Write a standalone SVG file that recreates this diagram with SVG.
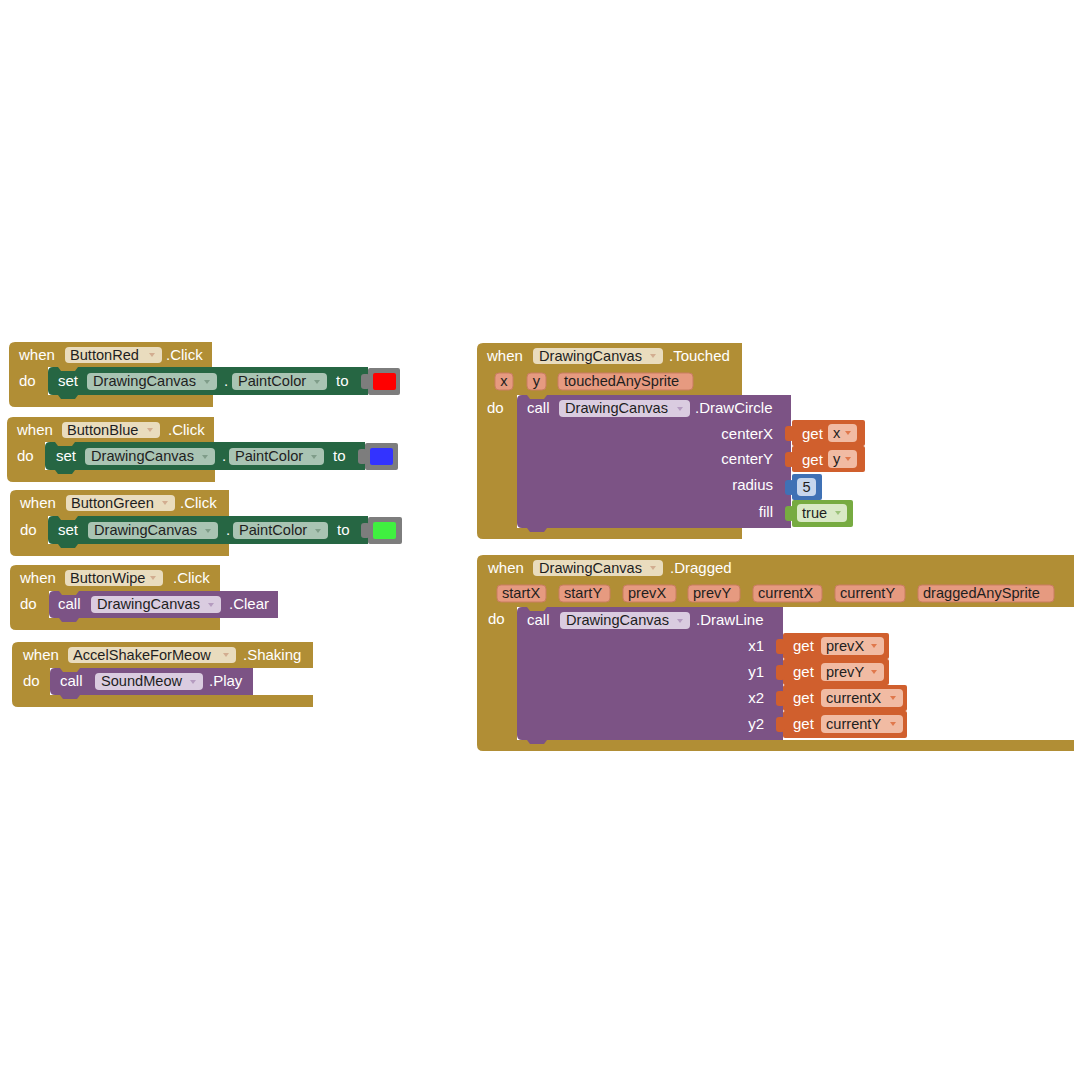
<svg xmlns="http://www.w3.org/2000/svg" width="1080" height="1080" viewBox="0 0 1080 1080">
<style>
.gold{fill:#b18e35}.set{fill:#266643}.call{fill:#7c5385}.get{fill:#d05f2d}.math{fill:#3f71b5}.logic{fill:#77ab41}.color{fill:#7d7d7d}
.t{font-family:"Liberation Sans",Arial,sans-serif;font-size:15px;fill:#fff}
.r{text-anchor:end}
.f{font-family:"Liberation Sans",Arial,sans-serif;font-size:14.6px;fill:#1e1e1e}
.c{text-anchor:middle}
.fg{fill:#e9dcbe}.fs{fill:#a9c4b3}.fc{fill:#dacce0}.fo{fill:#f1bba3}.fb{fill:#c6d6ed}.fl{fill:#d9e9c6}
.fp{fill:#e69a80;stroke:#c97c61;stroke-width:1}
.ag{fill:#d2ad90}.as{fill:#7f9d89}.ac{fill:#b59cc0}.ao{fill:#e0784c}.al{fill:#9cc27a}
</style>
<rect width="1080" height="1080" fill="#fff"/>

<g id="buttonred">
<path class="gold" d="M9,348 Q9,342 15,342 H212 V367 H48 V395 H213 V407 H15 Q9,407 9,401 Z"/>
<path class="set" d="M48,372 Q48,367 53,367 H368 V395 H53 Q48,395 48,390 Z"/>
<path class="gold" d="M58,367 L61,371 H75 L78,367 Z"/>
<path class="set" d="M58,395 L61,399 H75 L78,395 Z"/>
<rect class="color" x="368" y="368" width="32" height="27" rx="2"/>
<rect class="color" x="361" y="374" width="9" height="15" rx="3"/>
<rect x="373" y="373" width="23" height="17" rx="2" fill="#ff0000"/>
<text class="t" x="19" y="360">when</text>
<rect class="fg" x="65" y="347" width="97" height="16" rx="4"/>
<text class="f" x="70" y="360">ButtonRed</text>
<path class="ag" d="M149,353 H155 L152,357 Z"/>
<text class="t" x="166" y="360">.Click</text>
<text class="t" x="19" y="386">do</text>
<text class="t" x="58" y="386">set</text>
<rect class="fs" x="87" y="373" width="130" height="17" rx="4"/>
<text class="f" x="93" y="386">DrawingCanvas</text>
<path class="as" d="M204,380 H210 L207,384 Z"/>
<text class="t" x="224" y="386">.</text>
<rect class="fs" x="232" y="373" width="95" height="17" rx="4"/>
<text class="f" x="238" y="386">PaintColor</text>
<path class="as" d="M314,380 H320 L317,384 Z"/>
<text class="t" x="336" y="386">to</text>
</g>

<g id="buttonblue">
<path class="gold" d="M7,423 Q7,417 13,417 H214 V442 H45 V470 H215 V482 H13 Q7,482 7,476 Z"/>
<path class="set" d="M45,447 Q45,442 50,442 H365 V470 H50 Q45,470 45,465 Z"/>
<path class="gold" d="M55,442 L58,446 H72 L75,442 Z"/>
<path class="set" d="M55,470 L58,474 H72 L75,470 Z"/>
<rect class="color" x="365" y="443" width="33" height="27" rx="2"/>
<rect class="color" x="358" y="449" width="9" height="15" rx="3"/>
<rect x="370" y="448" width="23" height="17" rx="2" fill="#3333ff"/>
<text class="t" x="17" y="435">when</text>
<rect class="fg" x="62" y="422" width="98" height="16" rx="4"/>
<text class="f" x="67" y="435">ButtonBlue</text>
<path class="ag" d="M147,428 H153 L150,432 Z"/>
<text class="t" x="168" y="435">.Click</text>
<text class="t" x="17" y="461">do</text>
<text class="t" x="56" y="461">set</text>
<rect class="fs" x="85" y="448" width="130" height="17" rx="4"/>
<text class="f" x="91" y="461">DrawingCanvas</text>
<path class="as" d="M202,455 H208 L205,459 Z"/>
<text class="t" x="222" y="461">.</text>
<rect class="fs" x="229" y="448" width="95" height="17" rx="4"/>
<text class="f" x="235" y="461">PaintColor</text>
<path class="as" d="M311,455 H317 L314,459 Z"/>
<text class="t" x="333" y="461">to</text>
</g>

<g id="buttongreen">
<path class="gold" d="M10,496 Q10,490 16,490 H229 V516 H48 V544 H229 V556 H16 Q10,556 10,550 Z"/>
<path class="set" d="M48,521 Q48,516 53,516 H368 V544 H53 Q48,544 48,539 Z"/>
<path class="gold" d="M58,516 L61,520 H75 L78,516 Z"/>
<path class="set" d="M58,544 L61,548 H75 L78,544 Z"/>
<rect class="color" x="368" y="517" width="34" height="27" rx="2"/>
<rect class="color" x="361" y="523" width="9" height="15" rx="3"/>
<rect x="373" y="522" width="23" height="17" rx="2" fill="#40f040"/>
<text class="t" x="20" y="508">when</text>
<rect class="fg" x="66" y="495" width="109" height="16" rx="4"/>
<text class="f" x="71" y="508">ButtonGreen</text>
<path class="ag" d="M162,501 H168 L165,505 Z"/>
<text class="t" x="180" y="508">.Click</text>
<text class="t" x="20" y="535">do</text>
<text class="t" x="58" y="535">set</text>
<rect class="fs" x="88" y="522" width="130" height="17" rx="4"/>
<text class="f" x="94" y="535">DrawingCanvas</text>
<path class="as" d="M205,529 H211 L208,533 Z"/>
<text class="t" x="226" y="535">.</text>
<rect class="fs" x="233" y="522" width="95" height="17" rx="4"/>
<text class="f" x="239" y="535">PaintColor</text>
<path class="as" d="M315,529 H321 L318,533 Z"/>
<text class="t" x="337" y="535">to</text>
</g>

<g id="buttonwipe">
<path class="gold" d="M10,571 Q10,565 16,565 H220 V591 H49 V618 H220 V630 H16 Q10,630 10,624 Z"/>
<path class="call" d="M49,596 Q49,591 54,591 H278 V618 H54 Q49,618 49,613 Z"/>
<path class="gold" d="M59,591 L62,595 H76 L79,591 Z"/>
<path class="call" d="M59,618 L62,622 H76 L79,618 Z"/>
<text class="t" x="20" y="583">when</text>
<rect class="fg" x="65" y="570" width="98" height="16" rx="4"/>
<text class="f" x="70" y="583">ButtonWipe</text>
<path class="ag" d="M150,576 H156 L153,580 Z"/>
<text class="t" x="173" y="583">.Click</text>
<text class="t" x="20" y="609">do</text>
<text class="t" x="58" y="609">call</text>
<rect class="fc" x="91" y="596" width="130" height="17" rx="4"/>
<text class="f" x="97" y="609">DrawingCanvas</text>
<path class="ac" d="M208,603 H214 L211,607 Z"/>
<text class="t" x="229" y="609">.Clear</text>
</g>

<g id="shaking">
<path class="gold" d="M12,648 Q12,642 18,642 H313 V668 H50 V695 H313 V707 H18 Q12,707 12,701 Z"/>
<path class="call" d="M50,673 Q50,668 55,668 H253 V695 H55 Q50,695 50,690 Z"/>
<path class="gold" d="M60,668 L63,672 H77 L80,668 Z"/>
<path class="call" d="M60,695 L63,699 H77 L80,695 Z"/>
<text class="t" x="23" y="660">when</text>
<rect class="fg" x="68" y="647" width="168" height="16" rx="4"/>
<text class="f" x="73" y="660">AccelShakeForMeow</text>
<path class="ag" d="M223,653 H229 L226,657 Z"/>
<text class="t" x="243" y="660">.Shaking</text>
<text class="t" x="23" y="686">do</text>
<text class="t" x="60" y="686">call</text>
<rect class="fc" x="95" y="673" width="108" height="17" rx="4"/>
<text class="f" x="101" y="686">SoundMeow</text>
<path class="ac" d="M190,680 H196 L193,684 Z"/>
<text class="t" x="209" y="686">.Play</text>
</g>

<g id="touched">
<path class="gold" d="M477,349 Q477,343 483,343 H742 V395 H517 V528 H742 V539 H483 Q477,539 477,533 Z"/>
<path class="call" d="M517,400 Q517,395 522,395 H791 V528 H522 Q517,528 517,523 Z"/>
<path class="gold" d="M527,395 L530,399 H544 L547,395 Z"/>
<path class="call" d="M527,528 L530,532 H544 L547,528 Z"/>
<text class="t" x="487" y="361">when</text>
<rect class="fg" x="533" y="348" width="130" height="16" rx="4"/>
<text class="f" x="539" y="361">DrawingCanvas</text>
<path class="ag" d="M650,354 H656 L653,358 Z"/>
<text class="t" x="669" y="361">.Touched</text>
<rect class="fp" x="495" y="373" width="18" height="17" rx="4"/>
<text class="f c" x="504" y="386">x</text>
<rect class="fp" x="527" y="373" width="19" height="17" rx="4"/>
<text class="f c" x="536.5" y="386">y</text>
<rect class="fp" x="558" y="373" width="135" height="17" rx="4"/>
<text class="f" x="564" y="386">touchedAnySprite</text>
<text class="t" x="487" y="413">do</text>
<text class="t" x="527" y="413">call</text>
<rect class="fc" x="559" y="400" width="131" height="17" rx="4"/>
<text class="f" x="565" y="413">DrawingCanvas</text>
<path class="ac" d="M677,407 H683 L680,411 Z"/>
<text class="t" x="695" y="413">.DrawCircle</text>
<text class="t r" x="773" y="439">centerX</text>
<text class="t r" x="773" y="464">centerY</text>
<text class="t r" x="773" y="490">radius</text>
<text class="t r" x="773" y="517">fill</text>
</g>

<g id="touched-get-x">
<rect class="get" x="792" y="420" width="73" height="26" rx="2"/>
<rect class="get" x="785" y="426" width="9" height="15" rx="3"/>
<text class="t" x="802" y="439">get</text>
<rect class="fo" x="828" y="424" width="29" height="18" rx="4"/>
<text class="f" x="833" y="438">x</text>
<path class="ao" d="M845,431 H851 L848,435 Z"/>
</g>
<g id="touched-get-y">
<rect class="get" x="792" y="446" width="73" height="26" rx="2"/>
<rect class="get" x="785" y="452" width="9" height="15" rx="3"/>
<text class="t" x="802" y="465">get</text>
<rect class="fo" x="828" y="450" width="29" height="18" rx="4"/>
<text class="f" x="833" y="464">y</text>
<path class="ao" d="M845,457 H851 L848,461 Z"/>
</g>
<g id="touched-radius">
<rect class="math" x="792" y="474" width="30" height="26" rx="2"/>
<rect class="math" x="785" y="480" width="9" height="15" rx="3"/>
<rect class="fb" x="797" y="478" width="19" height="18" rx="4"/>
<text class="f c" x="806.5" y="492">5</text>
</g>
<g id="touched-fill">
<rect class="logic" x="792" y="500" width="61" height="27" rx="2"/>
<rect class="logic" x="785" y="506" width="9" height="15" rx="3"/>
<rect class="fl" x="797" y="504" width="50" height="18" rx="4"/>
<text class="f" x="802" y="518">true</text>
<path class="al" d="M835,511 H841 L838,515 Z"/>
</g>

<g id="dragged">
<path class="gold" d="M477,561 Q477,555 483,555 H1074 V607 H517 V740 H1074 V751 H483 Q477,751 477,745 Z"/>
<path class="call" d="M517,612 Q517,607 522,607 H783 V740 H522 Q517,740 517,735 Z"/>
<path class="gold" d="M527,607 L530,611 H544 L547,607 Z"/>
<path class="call" d="M527,740 L530,744 H544 L547,740 Z"/>
<text class="t" x="488" y="573">when</text>
<rect class="fg" x="533" y="560" width="130" height="16" rx="4"/>
<text class="f" x="539" y="573">DrawingCanvas</text>
<path class="ag" d="M650,566 H656 L653,570 Z"/>
<text class="t" x="670" y="573">.Dragged</text>
<rect class="fp" x="497" y="585" width="49" height="17" rx="4"/>
<text class="f" x="502" y="598">startX</text>
<rect class="fp" x="559" y="585" width="51" height="17" rx="4"/>
<text class="f" x="564" y="598">startY</text>
<rect class="fp" x="623" y="585" width="53" height="17" rx="4"/>
<text class="f" x="628" y="598">prevX</text>
<rect class="fp" x="688" y="585" width="52" height="17" rx="4"/>
<text class="f" x="693" y="598">prevY</text>
<rect class="fp" x="753" y="585" width="69" height="17" rx="4"/>
<text class="f" x="758" y="598">currentX</text>
<rect class="fp" x="835" y="585" width="70" height="17" rx="4"/>
<text class="f" x="840" y="598">currentY</text>
<rect class="fp" x="918" y="585" width="136" height="17" rx="4"/>
<text class="f" x="923" y="598">draggedAnySprite</text>
<text class="t" x="488" y="624">do</text>
<text class="t" x="527" y="625">call</text>
<rect class="fc" x="560" y="612" width="130" height="17" rx="4"/>
<text class="f" x="566" y="625">DrawingCanvas</text>
<path class="ac" d="M677,619 H683 L680,623 Z"/>
<text class="t" x="696" y="625">.DrawLine</text>
<text class="t r" x="764" y="651">x1</text>
<text class="t r" x="764" y="677">y1</text>
<text class="t r" x="764" y="703">x2</text>
<text class="t r" x="764" y="729">y2</text>
</g>

<g id="dragged-get-prevx">
<rect class="get" x="783" y="633" width="106" height="26" rx="2"/>
<rect class="get" x="776" y="639" width="9" height="15" rx="3"/>
<text class="t" x="793" y="651">get</text>
<rect class="fo" x="821" y="637" width="63" height="18" rx="4"/>
<text class="f" x="826" y="651">prevX</text>
<path class="ao" d="M871,644 H877 L874,648 Z"/>
</g>
<g id="dragged-get-prevy">
<rect class="get" x="783" y="659" width="106" height="26" rx="2"/>
<rect class="get" x="776" y="665" width="9" height="15" rx="3"/>
<text class="t" x="793" y="677">get</text>
<rect class="fo" x="821" y="663" width="63" height="18" rx="4"/>
<text class="f" x="826" y="677">prevY</text>
<path class="ao" d="M871,670 H877 L874,674 Z"/>
</g>
<g id="dragged-get-currentx">
<rect class="get" x="783" y="685" width="124" height="26" rx="2"/>
<rect class="get" x="776" y="691" width="9" height="15" rx="3"/>
<text class="t" x="793" y="703">get</text>
<rect class="fo" x="821" y="689" width="82" height="18" rx="4"/>
<text class="f" x="826" y="703">currentX</text>
<path class="ao" d="M890,696 H896 L893,700 Z"/>
</g>
<g id="dragged-get-currenty">
<rect class="get" x="783" y="711" width="124" height="27" rx="2"/>
<rect class="get" x="776" y="717" width="9" height="15" rx="3"/>
<text class="t" x="793" y="729">get</text>
<rect class="fo" x="821" y="715" width="82" height="18" rx="4"/>
<text class="f" x="826" y="729">currentY</text>
<path class="ao" d="M890,722 H896 L893,726 Z"/>
</g>
</svg>
